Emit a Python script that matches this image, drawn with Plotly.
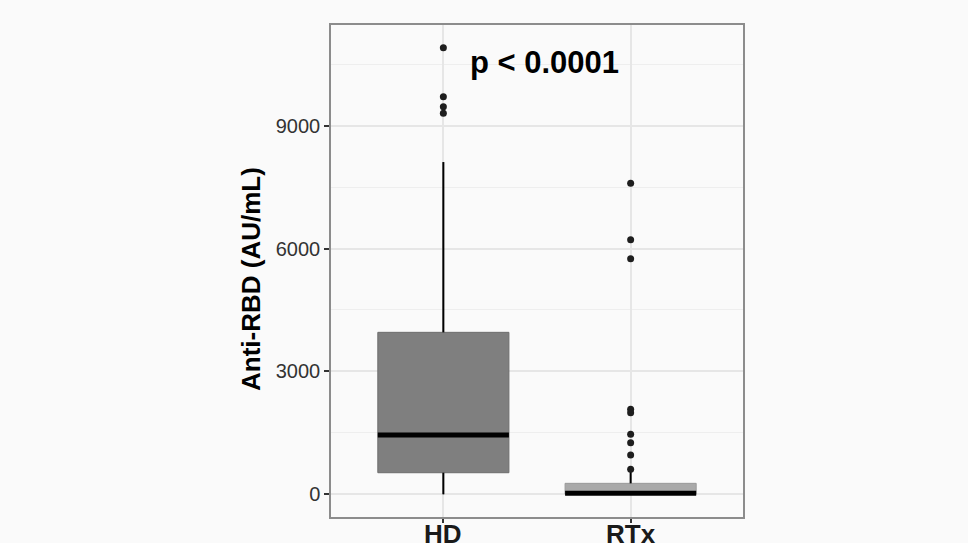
import plotly.graph_objects as go

groups = ["HD", "RTx"]
positions = [1, 2]
q1 = [527, 0]
median = [1447, 25]
q3 = [3954, 268]
lowerfence = [0, 0]
upperfence = [8110, 560]
outliers_HD = [10900, 9705, 9460, 9300]
outliers_RTx = [7590, 6215, 5750, 2075, 1990, 1465, 1260, 960, 610]
fill_colors = ["#7f7f7f", "#a9a9a9"]
edge_colors = ["#6e6e6e", "#999999"]
box_width = 0.7
FONT = "Liberation Sans, Arial"

fig = go.Figure()
for i, g in enumerate(groups):
    fig.add_trace(go.Box(
        x=[positions[i]], q1=[q1[i]], median=[median[i]], q3=[q3[i]],
        lowerfence=[lowerfence[i]], upperfence=[upperfence[i]],
        width=box_width, fillcolor=fill_colors[i],
        line=dict(color=edge_colors[i], width=1), whiskerwidth=0,
        boxpoints=False, hoverinfo="skip", showlegend=False, name=g))

for i, g in enumerate(groups):
    p = positions[i]
    fig.add_trace(go.Scatter(
        x=[p, p, None, p, p],
        y=[lowerfence[i], q1[i], None, q3[i], upperfence[i]],
        mode="lines", line=dict(color="black", width=2),
        hoverinfo="skip", showlegend=False))
    fig.add_trace(go.Scatter(
        x=[p - box_width / 2, p + box_width / 2], y=[median[i], median[i]],
        mode="lines", line=dict(color="black", width=5),
        hoverinfo="skip", showlegend=False))

for p, vals in zip(positions, [outliers_HD, outliers_RTx]):
    fig.add_trace(go.Scatter(
        x=[p] * len(vals), y=vals, mode="markers",
        marker=dict(color="#1e1e1e", size=7),
        hoverinfo="skip", showlegend=False))

fig.add_annotation(x=1.538, y=10550, text="<b>p < 0.0001</b>", showarrow=False,
                   font=dict(family=FONT, size=31, color="black"),
                   xanchor="center", yanchor="middle")

# x-axis category labels
for p, g in zip(positions, groups):
    fig.add_annotation(x=p, xref="x", y=0, yref="paper", yanchor="top", yshift=0,
                       text="<b>%s</b>" % g, showarrow=False,
                       font=dict(family=FONT, size=26, color="#1a1a1a"))

# y-axis title
fig.add_annotation(x=0, xref="paper", xanchor="center", xshift=-80,
                   y=0.5, yref="paper", yanchor="middle", yshift=-8,
                   text="<b>Anti-RBD (AU/mL)</b>", textangle=-90, showarrow=False,
                   font=dict(family=FONT, size=26, color="black"))

fig.update_layout(
    width=968, height=543,
    margin=dict(l=331, r=225, t=25, b=26),
    paper_bgcolor="#fafafa", plot_bgcolor="#fafafa",
    font=dict(family=FONT, color="#333333"),
    xaxis=dict(
        range=[0.4, 2.6], tickmode="array", tickvals=positions, showticklabels=False,
        showgrid=True, gridcolor="#e6e6e6", gridwidth=1.5, automargin=False,
        showline=True, mirror=True, linecolor="#8c8c8c", linewidth=1.5,
        ticks="outside", ticklen=4, tickcolor="#333333", tickwidth=1.5,
        zeroline=False),
    yaxis=dict(
        range=[-554, 11456], tick0=0, dtick=3000, tickformat="d", automargin=False,
        showgrid=True, gridcolor="#e6e6e6", gridwidth=1.5,
        minor=dict(dtick=1500, showgrid=True, gridcolor="#eeeeee", gridwidth=1),
        showline=True, mirror=True, linecolor="#8c8c8c", linewidth=1.5,
        ticks="outside", ticklen=5, tickcolor="#333333", tickwidth=1.5,
        tickfont=dict(size=20, color="#333333"), zeroline=False),
)

fig.write_html("out.html")
